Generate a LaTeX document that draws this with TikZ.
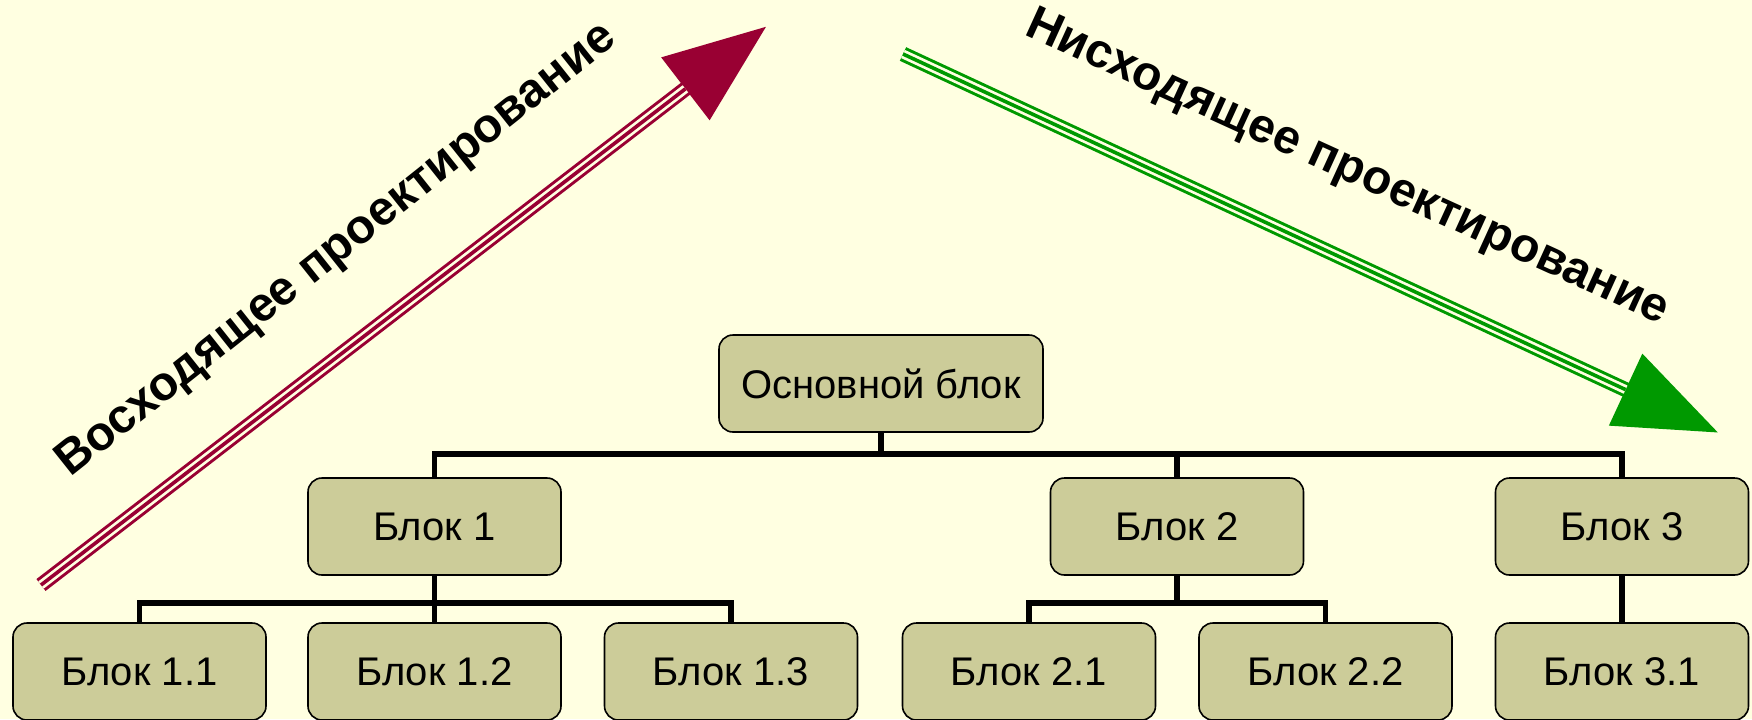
\documentclass[tikz,border=0pt]{standalone}
\usepackage{fontspec}
\setmainfont{Liberation Sans}
\usetikzlibrary{arrows.meta}
\definecolor{paper}{HTML}{FFFFE1}
\definecolor{blockfill}{HTML}{CCCC99}
\definecolor{upred}{HTML}{990033}
\definecolor{downgreen}{HTML}{009900}
\tikzset{
  block/.style  = {draw=black,line width=0.8pt,fill=blockfill,rounded corners=7pt,
                   minimum width=126.5pt,minimum height=48.5pt,inner sep=0pt,
                   font=\fontsize{20}{24}\selectfont},
  link/.style   = {line width=2.8pt},
  stripe/.style = {line width=7.5pt,-{Triangle[length=51.5pt,width=37.5pt]},
                   postaction={draw=paper,line width=4.5pt,-,shorten >=51.5pt},
                   postaction={draw=#1,line width=1.8pt,-,shorten >=51.5pt}},
  slogan/.style = {font=\bfseries\fontsize{24}{28}\selectfont}
}

\begin{document}
\begin{tikzpicture}[x=0.5pt,y=-0.5pt]
  \fill[paper] (0,0) rectangle (1752,719);
  \useasboundingbox (0,0) rectangle (1752,719);
  % blocks
  \node[block,minimum width=162pt] (main) at (881,383.5) {Основной блок};
  \node[block] (b1)  at (434.5,526.5) {Блок 1};
  \node[block] (b2)  at (1177,526.5)  {Блок 2};
  \node[block] (b3)  at (1622,526.5)  {Блок 3};
  \node[block] (b11) at (139.5,671.5) {Блок 1.1};
  \node[block] (b12) at (434.5,671.5) {Блок 1.2};
  \node[block] (b13) at (731,671.5)   {Блок 1.3};
  \node[block] (b21) at (1029,671.5)  {Блок 2.1};
  \node[block] (b22) at (1325.5,671.5){Блок 2.2};
  \node[block] (b31) at (1622,671.5)  {Блок 3.1};
  % tree links
  \coordinate (bus1) at (0,454);
  \coordinate (bus2) at (0,603);
  \draw[link] (main.south) -- (main.south |- bus1);
  \draw[link] (b1.north) |- (b3.north |- bus1) -- (b3.north);
  \draw[link] (b2.north) -- (b2.north |- bus1);
  \draw[link] (b1.south) -- (b12.north);
  \draw[link] (b11.north) |- (b13.north |- bus2) -- (b13.north);
  \draw[link] (b2.south) -- (b2.south |- bus2);
  \draw[link] (b21.north) |- (b22.north |- bus2) -- (b22.north);
  \draw[link] (b3.south) -- (b31.north);
  % design directions
  \coordinate (up-tail)   at (41,585);
  \coordinate (up-tip)    at (767,26);
  \coordinate (down-tail) at (903,54);
  \coordinate (down-tip)  at (1719,433);
  \draw[stripe=upred,upred]         (up-tail) -- (up-tip);
  \draw[stripe=downgreen,downgreen] (down-tail) -- (down-tip);
  \node[slogan,rotate=38.5]  (up-label)   at (337,251)  {Восходящее проектирование};
  \node[slogan,rotate=-24.5] (down-label) at (1347,169) {Нисходящее проектирование};
\end{tikzpicture}
\end{document}
